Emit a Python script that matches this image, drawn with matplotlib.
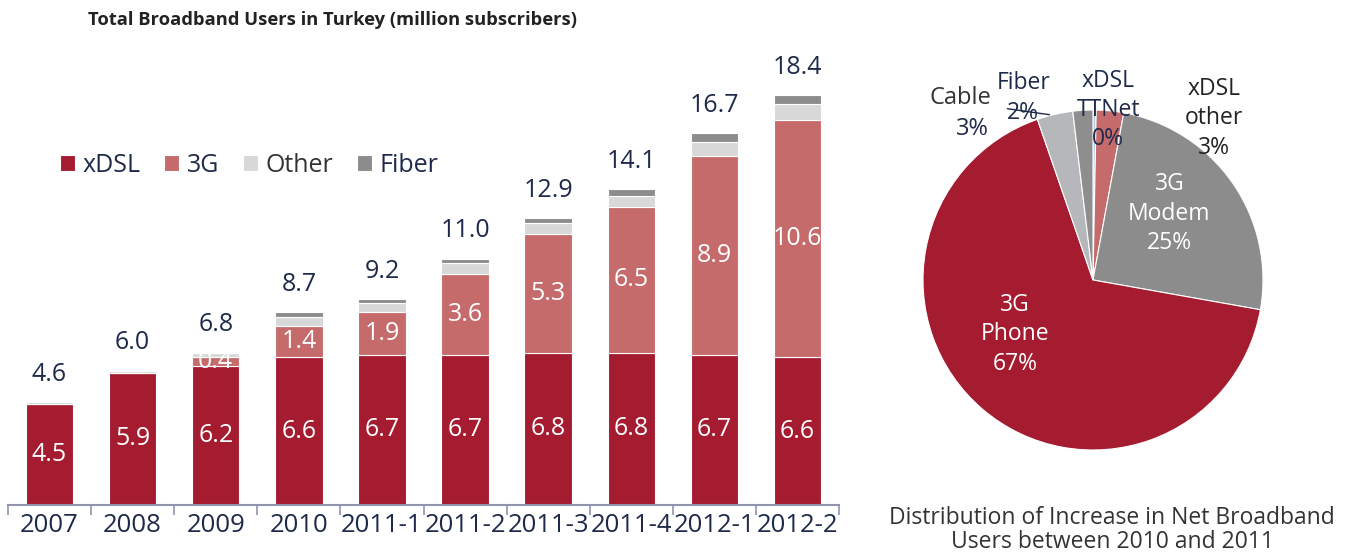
import numpy as np
import matplotlib
matplotlib.use('Agg')
import matplotlib.pyplot as plt

plt.rcParams['font.family'] = ['Open Sans', 'DejaVu Sans']

# bar chart data (million subscribers)
periods = ['2007', '2008', '2009', '2010', '2011-1', '2011-2', '2011-3', '2011-4', '2012-1', '2012-2']
xdsl = [4.5, 5.9, 6.2, 6.6, 6.7, 6.7, 6.8, 6.8, 6.7, 6.6]
g3 = [0.0, 0.0, 0.4, 1.4, 1.9, 3.6, 5.3, 6.5, 8.9, 10.6]
other = [0.1, 0.1, 0.2, 0.4, 0.4, 0.5, 0.5, 0.5, 0.6, 0.7]
fiber = [0.0, 0.0, 0.0, 0.2, 0.2, 0.2, 0.2, 0.3, 0.4, 0.4]
totals = [4.6, 6.0, 6.8, 8.7, 9.2, 11.0, 12.9, 14.1, 16.7, 18.4]

# pie data (share of increase 2010-2011, %)
pie_names = ['xDSL TTNet', 'xDSL other', '3G Modem', '3G Phone', 'Cable', 'Fiber']
pie_vals = [0.3, 2.6, 24.9, 66.9, 3.4, 1.9]
pie_pct = ['0%', '3%', '25%', '67%', '3%', '2%']

c_xdsl = '#A51C30'
c_3g = '#C66B6B'
c_other = '#D8D8D8'
c_fiber = '#8C8C8C'
navy = '#1F2A4A'
axis_col = '#9094AE'

fig = plt.figure(figsize=(13.52, 5.54), dpi=100)

# ---- stacked bars
ax = fig.add_axes([8 / 1352, 49 / 554, 831 / 1352, 465 / 554])
x = np.arange(len(periods))
w = 0.57
b1 = np.array(xdsl)
b2 = b1 + np.array(g3)
b3 = b2 + np.array(other)
ax.bar(x, xdsl, w, color=c_xdsl, edgecolor='white', linewidth=0.8, label='xDSL')
ax.bar(x, g3, w, bottom=b1, color=c_3g, edgecolor='white', linewidth=0.8, label='3G')
ax.bar(x, other, w, bottom=b2, color=c_other, edgecolor='white', linewidth=0.8, label='Other')
ax.bar(x, fiber, w, bottom=b3, color=c_fiber, edgecolor='white', linewidth=0.8, label='Fiber')

for i in range(len(periods)):
    ax.text(x[i], xdsl[i] / 2, '%.1f' % xdsl[i], ha='center', va='center',
            color='white', fontsize=18)
    if g3[i] > 0:
        ax.text(x[i], b1[i] + g3[i] / 2, '%.1f' % g3[i], ha='center', va='center',
                color='white', fontsize=18)
    ax.annotate('%.1f' % totals[i], (x[i], b3[i] + fiber[i]), xytext=(0, 20),
                textcoords='offset points', ha='center', va='center',
                color=navy, fontsize=18)

ax.set_xlim(-0.5, len(periods) - 0.5)
ax.set_ylim(0, 20.76)
ax.set_xticks(x)
ax.set_xticklabels(periods, fontsize=18.5, color=navy)
ax.tick_params(axis='x', length=0, pad=6)
ax.set_xticks(np.arange(-0.5, len(periods)), minor=True)
ax.tick_params(axis='x', which='minor', length=7, width=1.2, color=axis_col)
ax.set_yticks([])
for s in ['top', 'right', 'left']:
    ax.spines[s].set_visible(False)
ax.spines['bottom'].set_color(axis_col)
ax.spines['bottom'].set_linewidth(1.5)

leg = ax.legend(ncol=4, frameon=False, fontsize=18, handlelength=0.6, handleheight=0.6,
                handletextpad=0.3, columnspacing=0.95, loc='center left',
                bbox_to_anchor=(52 / 831, 0.73), borderaxespad=0, borderpad=0)
for t in leg.get_texts():
    t.set_color(navy)
leg.get_texts()[2].set_color('#333333')

fig.text(88 / 1352, 1 - 20 / 554, 'Total Broadband Users in Turkey (million subscribers)',
         fontsize=13.2, fontweight='bold', color='#222222', va='center', ha='left')

# ---- pie
pax = fig.add_axes([(1093 - 170) / 1352, (554 - 280 - 170) / 554, 340 / 1352, 340 / 554])
pie_cols = ['#A9C8E4', c_3g, '#8C8C8C', c_xdsl, '#B6B7BA', '#8E8E8E']
pax.pie(pie_vals, colors=pie_cols, startangle=90, counterclock=False, radius=1,
        wedgeprops=dict(edgecolor='white', linewidth=0.8))
pax.set_xlim(-1, 1)
pax.set_ylim(-1, 1)
pax.set_aspect('equal')

ls = 1.3
pax.text(0.45, 0.39, '3G\nModem\n' + pie_pct[2], ha='center', va='center',
         color='white', fontsize=16.5, linespacing=ls)
pax.text(-0.46, -0.32, '3G\nPhone\n' + pie_pct[3], ha='center', va='center',
         color='white', fontsize=16.5, linespacing=ls)
pax.text(0.71, 0.95, 'xDSL\nother\n' + pie_pct[1], ha='center', va='center',
         color='#222222', fontsize=16.5, linespacing=ls)
pax.text(0.09, 1.0, 'xDSL\nTTNet\n' + pie_pct[0], ha='center', va='center',
         color=navy, fontsize=16.5, linespacing=ls)
pax.text(-0.41, 1.07, 'Fiber\n' + pie_pct[5], ha='center', va='center',
         color=navy, fontsize=16.5, linespacing=ls)
pax.annotate('', xy=(-0.24, 0.97), xytext=(-0.52, 1.01),
             arrowprops=dict(arrowstyle='-', color=navy, lw=1))
pax.text(-0.78, 1.07, 'Cable', ha='center', va='center', color='#333333', fontsize=17)
pax.text(-0.71, 0.89, pie_pct[4], ha='center', va='center', color=navy, fontsize=17)

fig.text(1112 / 1352, 1 - 530 / 554,
         'Distribution of Increase in Net Broadband\nUsers between 2010 and 2011',
         ha='center', va='center', fontsize=16.5, color='#333333', linespacing=0.95)

fig.savefig('out.png', dpi=100)
